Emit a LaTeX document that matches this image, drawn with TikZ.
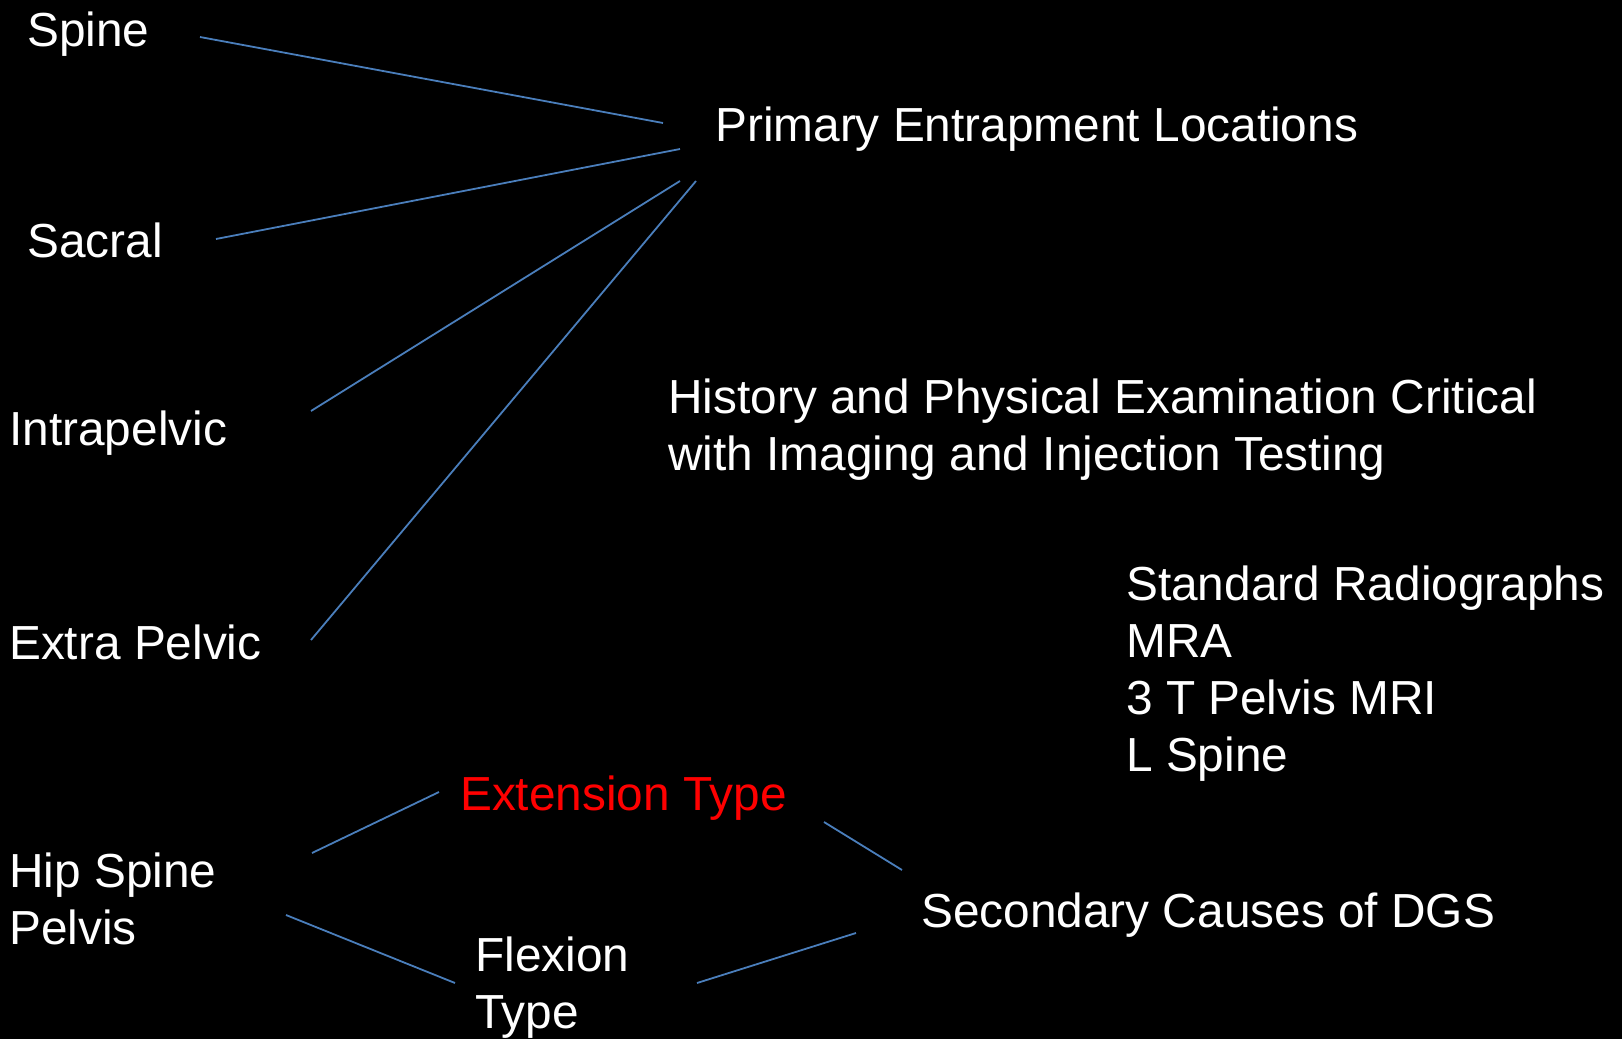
\documentclass[tikz,border=0pt]{standalone}
\usepackage{fontspec}
\setmainfont{Liberation Sans}
\usepackage{xcolor}
\usepackage{tikz}
\usetikzlibrary{positioning,calc}

\definecolor{lineblue}{RGB}{74,126,187}

\begin{document}
\begin{tikzpicture}[x=1pt,y=-1pt,
            main node/.style={anchor=base west,inner sep=0pt,text=white,align=left,
              font=\fontsize{47.8}{57}\selectfont},
            link/.style={draw=lineblue,line width=1.8pt}]

            \fill[black] (0,0) rectangle (1622,1039);
            \useasboundingbox (0,0) rectangle (1622,1039);

            % multi-line nodes sit on their last baseline
            \node[main node] (1) at (715,141) {Primary Entrapment Locations};
            \node[main node] (2) at (27,46) {Spine};
            \node[main node] (3) at (27,257) {Sacral};
            \node[main node] (4) at (9,445) {Intrapelvic};
            \node[main node] (5) at (9,659) {Extra Pelvic};
            \node[main node] (6) at (9,944) {Hip Spine\\Pelvis};
            \node[main node,text=red] (7) at (460,810) {Extension Type};
            \node[main node] (8) at (475,1028) {Flexion\\Type};
            \node[main node] (9) at (921,927) {Secondary Causes of DGS};
            \node[main node] (10) at (668,470) {History and Physical Examination Critical\\with Imaging and Injection Testing};
            \node[main node] (11) at (1126,771) {Standard Radiographs\\MRA\\3 T Pelvis MRI\\L Spine};

            \path[link]
            ($(2.base west)+(173,-9)$) edge ($(1.base west)+(-52,-18)$)
            ($(3.base west)+(189,-18)$) edge ($(1.base west)+(-35,8)$)
            ($(4.base west)+(302,-34)$) edge ($(1.base west)+(-35,40)$)
            ($(5.base west)+(302,-19)$) edge ($(1.base west)+(-19,40)$)
            ($(6.base west)+(303,-91)$) edge ($(7.base west)+(-21,-18)$)
            ($(6.base west)+(277,-29)$) edge ($(8.base west)+(-20,-45)$)
            ($(7.base west)+(364,12)$) edge ($(9.base west)+(-19,-57)$)
            ($(8.base west)+(222,-45)$) edge ($(9.base west)+(-65,6)$);
          \end{tikzpicture}
\end{document}
